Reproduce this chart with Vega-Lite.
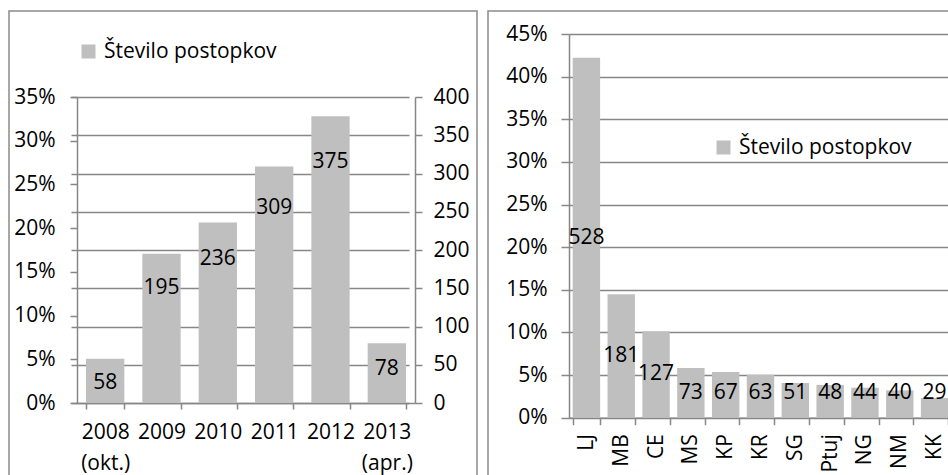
{
  "$schema": "https://vega.github.io/schema/vega-lite/v6.json",
  "padding": {"left": 8, "top": 10, "right": 0, "bottom": 0},
  "spacing": 11,
  "bounds": "flush",
  "config": {
    "font": "Open Sans",
    "view": {"stroke": "#8a8a8a", "strokeWidth": 1.5},
    "axis": {
      "labelFont": "Open Sans",
      "labelFontSize": 21,
      "labelColor": "#000000",
      "domainColor": "#878787",
      "domainWidth": 1.5,
      "tickColor": "#878787",
      "tickWidth": 1.5,
      "gridColor": "#878787",
      "gridWidth": 1.5,
      "gridOpacity": 1,
      "labelOverlap": false,
      "labelFlush": false
    },
    "legend": {
      "labelFont": "Open Sans",
      "labelFontSize": 21,
      "labelColor": "#000000",
      "labelLimit": 0,
      "symbolType": "square",
      "symbolSize": 196,
      "symbolStrokeWidth": 0,
      "labelOffset": 5,
      "padding": 0
    },
    "text": {"font": "Open Sans", "fontSize": 21, "color": "#000000"}
  },
  "hconcat": [
    {
      "width": 468,
      "height": 470,
      "data": {
        "values": [
          {"leto": "2008 (okt.)", "postopki": 58, "delez": 0.0464},
          {"leto": "2009", "postopki": 195, "delez": 0.1559},
          {"leto": "2010", "postopki": 236, "delez": 0.1886},
          {"leto": "2011", "postopki": 309, "delez": 0.2470},
          {"leto": "2012", "postopki": 375, "delez": 0.2998},
          {"leto": "2013 (apr.)", "postopki": 78, "delez": 0.0624}
        ]
      },
      "encoding": {
        "x": {
          "field": "leto",
          "type": "nominal",
          "sort": null,
          "title": null,
          "scale": {"range": [68, 406], "paddingInner": 0.32, "paddingOuter": 0.16},
          "axis": {
            "orient": "bottom",
            "offset": -78,
            "labelAngle": 0,
            "tickBand": "extent",
            "tickSize": 6,
            "labelPadding": 12,
            "labelBaseline": "top",
            "labelLineHeight": 31,
            "labelExpr": "split(datum.label, ' ')"
          }
        }
      },
      "layer": [
        {
          "mark": {"type": "bar"},
          "encoding": {
            "y": {
              "field": "postopki",
              "type": "quantitative",
              "title": null,
              "scale": {"domain": [0, 400], "range": [392, 86], "nice": false},
              "axis": {
                "orient": "right",
                "offset": -62,
                "values": [0, 50, 100, 150, 200, 250, 300, 350, 400],
                "grid": true,
                "tickSize": 7,
                "labelPadding": 11
              }
            },
            "color": {
              "datum": "Število postopkov",
              "type": "nominal",
              "scale": {"range": ["#bfbfbf"]},
              "legend": {"title": null, "orient": "none", "legendX": 69, "legendY": 30}
            }
          }
        },
        {
          "mark": {"type": "text", "dy": 21, "baseline": "middle", "align": "center"},
          "encoding": {
            "y": {
              "field": "delez",
              "type": "quantitative",
              "title": null,
              "scale": {"domain": [0, 0.35], "range": [392, 86], "nice": false},
              "axis": {
                "orient": "left",
                "offset": -68,
                "values": [0, 0.05, 0.1, 0.15, 0.2, 0.25, 0.3, 0.35],
                "format": ".0%",
                "grid": false,
                "tickSize": 7,
                "labelPadding": 15
              }
            },
            "text": {"field": "postopki", "type": "quantitative"}
          }
        }
      ],
      "resolve": {"scale": {"y": "independent"}, "axis": {"y": "independent"}}
    },
    {
      "width": 470,
      "height": 470,
      "data": {
        "values": [
          {"enota": "LJ", "postopki": 528, "delez": 0.4221},
          {"enota": "MB", "postopki": 181, "delez": 0.1447},
          {"enota": "CE", "postopki": 127, "delez": 0.1015},
          {"enota": "MS", "postopki": 73, "delez": 0.0584},
          {"enota": "KP", "postopki": 67, "delez": 0.0536},
          {"enota": "KR", "postopki": 63, "delez": 0.0504},
          {"enota": "SG", "postopki": 51, "delez": 0.0408},
          {"enota": "Ptuj", "postopki": 48, "delez": 0.0384},
          {"enota": "NG", "postopki": 44, "delez": 0.0352},
          {"enota": "NM", "postopki": 40, "delez": 0.0320},
          {"enota": "KK", "postopki": 29, "delez": 0.0232}
        ]
      },
      "encoding": {
        "x": {
          "field": "enota",
          "type": "nominal",
          "sort": null,
          "title": null,
          "scale": {"range": [81, 464], "paddingInner": 0.213, "paddingOuter": 0.1065},
          "axis": {
            "orient": "bottom",
            "offset": -63.3,
            "labelAngle": -90,
            "tickBand": "extent",
            "tickSize": 7,
            "labelPadding": 9
          }
        }
      },
      "layer": [
        {
          "mark": {"type": "bar"},
          "encoding": {
            "y": {
              "field": "delez",
              "type": "quantitative",
              "title": null,
              "scale": {"domain": [0, 0.45], "range": [406.7, 23], "nice": false},
              "axis": {
                "orient": "left",
                "offset": -81,
                "values": [0, 0.05, 0.1, 0.15, 0.2, 0.25, 0.3, 0.35, 0.4, 0.45],
                "format": ".0%",
                "grid": true,
                "tickSize": 8,
                "labelPadding": 14
              }
            },
            "color": {
              "datum": "Število postopkov",
              "type": "nominal",
              "scale": {"range": ["#bfbfbf"]},
              "legend": {"title": null, "orient": "none", "legendX": 225, "legendY": 126}
            }
          }
        },
        {
          "mark": {"type": "text", "baseline": "middle", "align": "center"},
          "encoding": {
            "y": {
              "field": "delez",
              "type": "quantitative",
              "scale": {"domain": [0.058, 0.9], "range": [382, 23], "clamp": true, "nice": false, "zero": false},
              "axis": null
            },
            "text": {"field": "postopki", "type": "quantitative"}
          }
        }
      ],
      "resolve": {"scale": {"y": "independent"}}
    }
  ],
  "resolve": {"scale": {"color": "independent"}, "legend": {"color": "independent"}}
}
